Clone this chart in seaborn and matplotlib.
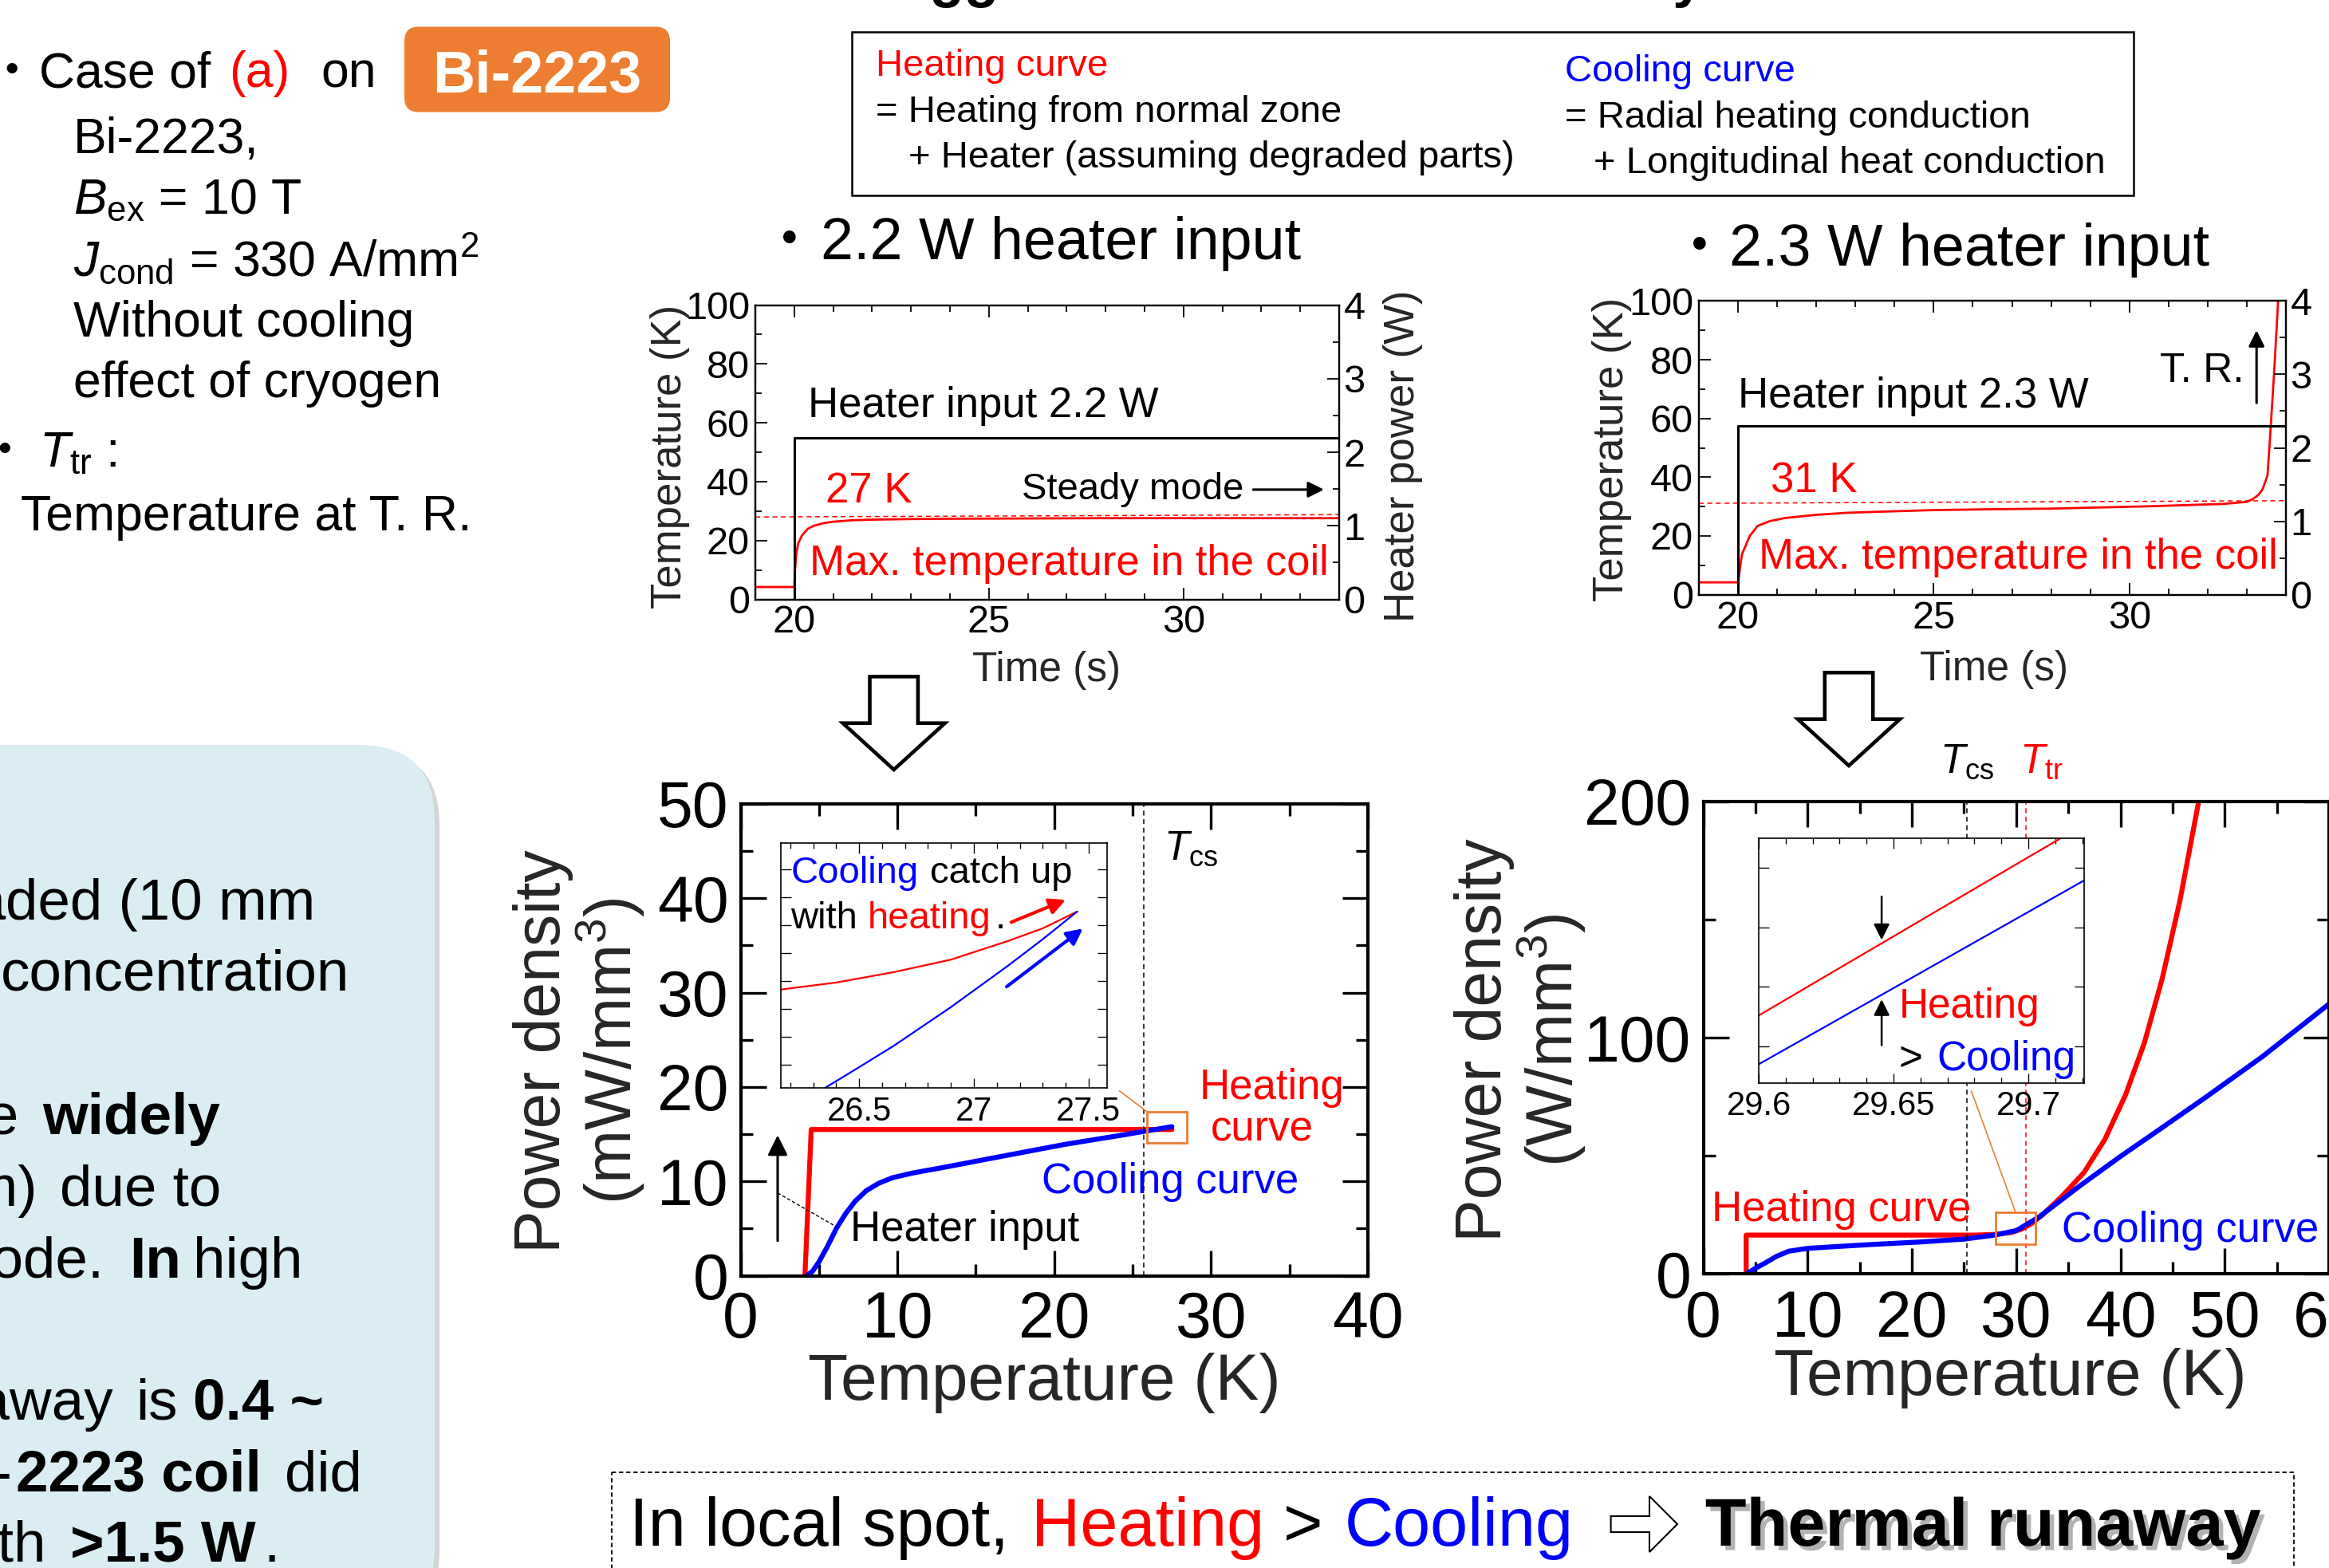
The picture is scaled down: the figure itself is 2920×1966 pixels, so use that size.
import matplotlib
matplotlib.use("Agg")
import matplotlib.pyplot as plt
import matplotlib.patheffects as pe
from matplotlib.patches import FancyBboxPatch, Rectangle, Polygon
from matplotlib.ticker import MultipleLocator, FuncFormatter, NullFormatter
import seaborn as sns

# ---------------- values ----------------
# max. coil temperature (K) vs time (s)
time_22 = [19.0, 20.0, 20.02, 20.05, 20.1, 20.2, 20.35, 20.5, 20.75, 21.0, 21.5, 22.0,
           23.0, 24.0, 26.0, 28.0, 31.0, 34.0]
temp_22 = [4.2, 4.2, 10.0, 15.3, 19.0, 21.8, 24.0, 25.0, 25.9, 26.4, 26.9, 27.1,
           27.3, 27.4, 27.5, 27.6, 27.6, 27.6]
time_23 = [19.0, 20.0, 20.05, 20.1, 20.3, 20.5, 20.8, 21.2, 22.0, 22.8, 24.0, 25.0,
           26.5, 28.0, 30.5, 32.4, 33.0, 33.15, 33.3, 33.4, 33.53, 33.61, 33.71, 33.8]
temp_23 = [4.2, 4.2, 9.0, 13.7, 20.0, 23.4, 25.0, 26.1, 27.2, 27.9, 28.4, 28.8,
           29.1, 29.3, 30.1, 30.9, 31.6, 32.5, 34.0, 35.8, 40.6, 56.7, 78.2, 100.0]
# heater power (W)
heater_time = [19.0, 20.0, 20.0, 34.0]
heater_22 = [0.0, 0.0, 2.2, 2.2]
heater_23 = [0.0, 0.0, 2.3, 2.3]
# dashed peak-temperature guides (K)
guide_time = [19.0, 34.0]
guide_22 = [28.0, 28.8]
guide_23 = [31.1, 32.0]

# power density vs temperature, 2.2 W case (mW/mm3)
heat22_T = [4.1, 4.5, 27.5]
heat22_P = [0.0, 15.5, 15.5]
cool22_T = [4.2, 4.6, 5.0, 5.5, 6.1, 6.7, 7.3, 8.0, 8.8, 9.7, 11.0, 13.0, 15.2, 20.6,
            24.3, 27.5]
cool22_P = [0.0, 0.5, 1.5, 3.0, 5.0, 6.6, 7.9, 9.0, 9.8, 10.4, 10.9, 11.5, 12.2, 13.9,
            14.9, 15.8]
tcs_22 = 25.7
# zoomed inset (arbitrary tick units)
ins22_heat_T = [26.16, 26.4, 26.65, 26.9, 27.15, 27.3, 27.45]
ins22_heat_v = [2.69, 2.94, 3.31, 3.76, 4.43, 4.88, 5.48]
ins22_cool_T = [26.35, 26.5, 26.65, 26.9, 27.15, 27.3, 27.45]
ins22_cool_v = [-0.84, -0.09, 0.67, 2.06, 3.55, 4.49, 5.48]

# power density vs temperature, 2.3 W case (W/mm3)
heat23_T = [4.1, 4.1, 26.0, 28.0, 29.5, 30.5, 31.5, 32.5, 34.4, 36.5, 38.5, 40.5,
            42.3, 44.0, 45.7, 47.5]
heat23_P = [0.0, 16.5, 16.5, 16.8, 17.6, 19.0, 21.5, 25.0, 33.0, 43.0, 57.0, 76.0,
            98.0, 125.0, 158.0, 200.0]
cool23_T = [4.1, 5.0, 6.0, 7.0, 8.2, 10.0, 12.6, 16.0, 20.8, 25.0, 27.9, 30.0, 32.2,
            36.0, 39.9, 44.0, 48.1, 53.6, 60.0]
cool23_P = [0.0, 2.5, 4.9, 7.5, 9.7, 10.9, 11.6, 12.5, 13.6, 14.8, 16.5, 18.4, 24.2,
            37.0, 49.5, 62.0, 74.6, 92.0, 114.3]
tcs_23 = 25.3
ttr_23 = 30.9
ins23_T = [29.6, 29.712]
ins23_heat_v = [0.52, 3.5]
ins23_cool_T = [29.6, 29.7207]
ins23_cool_v = [-0.3, 2.79]
ins23_ticks = [29.6, 29.65, 29.7]

RED = "#FF0000"
BLUE = "#0000FF"
ORANGE = "#ED7D31"

sns.set_theme(style="ticks")
plt.rcParams.update({
    "font.family": ["Liberation Sans", "Noto Sans CJK JP"],
    "mathtext.fontset": "custom",
    "mathtext.rm": "Liberation Sans",
    "mathtext.it": "Liberation Sans:italic",
    "mathtext.bf": "Liberation Sans:bold",
    "axes.edgecolor": "black",
    "xtick.color": "black",
    "ytick.color": "black",
})

fig = plt.figure(figsize=(29.2, 19.66), dpi=100)

# full-figure overlay in pixel units (y downwards) for the slide decorations
bg = fig.add_axes([0, 0, 1, 1])
bg.set_xlim(0, 2920)
bg.set_ylim(1966, 0)
bg.axis("off")


def put(x, y, s, size, color="black", weight="normal", ha="left", va="baseline", ax=None, **kw):
    ax = bg if ax is None else ax
    return ax.text(x, y, s, fontsize=size, color=color, fontweight=weight, ha=ha, va=va, **kw)


def line(ax, x, y, color, lw, ls="-"):
    sns.lineplot(x=x, y=y, ax=ax, color=color, linewidth=lw, linestyle=ls,
                 estimator=None, sort=False, legend=False)


def frame(ax, spine_w, major, minor, labelsize, pad, right=True):
    for s in ax.spines.values():
        s.set_linewidth(spine_w)
        s.set_color("black")
    ax.tick_params(which="both", direction="in", top=True, right=right,
                   width=spine_w * 0.8, labelsize=labelsize, pad=pad, colors="black")
    ax.tick_params(which="major", length=major)
    ax.tick_params(which="minor", length=minor)


def arrow(ax, tail, tip, color, lw, ms):
    ax.annotate("", xy=tip, xytext=tail,
                arrowprops=dict(arrowstyle="-|>", color=color, lw=lw, mutation_scale=ms,
                                shrinkA=0, shrinkB=0))


# ---------------- title cut by the top edge (only descenders visible) ----------------
r = fig.canvas.get_renderer()
tmp = put(0, 0, "Thermal behavior tri", 51, weight="bold")
w_a = tmp.get_window_extent(r).width
tmp.remove()
tmp = put(0, 0, "heated area b", 51, weight="bold")
w_b = tmp.get_window_extent(r).width
tmp.remove()
put(1166 - w_a, -5, "Thermal behavior triggered", 51, weight="bold")
put(2097 - w_b, -5, "heated area by heater", 51, weight="bold")

# ---------------- left text block ----------------
put(14.4, 109, "・", 45, ha="center")
put(49, 109, "Case of", 45)
put(287, 109, "(a)", 45, color=RED)
put(402, 109, "on", 45)
bg.add_patch(FancyBboxPatch((507, 33.5), 333, 107, boxstyle="round,pad=0,rounding_size=18",
                            fc=ORANGE, ec="none"))
put(673, 115, "Bi-2223", 53, color="white", weight="bold", ha="center")
put(92, 192, "Bi-2223,", 45)
put(92, 268, r"$B_{\rm ex}$ = 10 T", 45)
put(92, 346, r"$J_{\rm cond}$ = 330 A/mm$^2$", 45)
put(92, 422, "Without cooling", 45)
put(92, 498, "effect of cryogen", 45)
put(5.7, 585, "・", 45, ha="center")
put(49, 585, r"$T_{\rm tr}$ :", 45)
put(26, 665, "Temperature at T. R.", 45)

# ---------------- definition box ----------------
bg.add_patch(Rectangle((1068, 40), 1607, 205, fc="white", ec="black", lw=1.8))
put(1098, 95, "Heating curve", 34, color=RED)
put(1098, 153, "= Heating from normal zone", 34)
put(1139, 210, "+ Heater (assuming degraded parts)", 34)
put(1962, 101.7, "Cooling curve", 34, color=BLUE)
put(1962, 160, "= Radial heating conduction", 34)
put(1998, 216.7, "+ Longitudinal heat conduction", 34)

# ---------------- panel titles ----------------
put(990, 325, "・", 53, ha="center")
put(1028.7, 325, "2.2 W heater input", 53)
put(2131, 333, "・", 53, ha="center")
put(2168, 333, "2.3 W heater input", 53)

# ---------------- hollow down arrows ----------------
for xc, dy in [(1120.7, 0), (2318, -5)]:
    pts = [(xc - 30.2, 848.3 + dy), (xc + 30.2, 848.3 + dy), (xc + 30.2, 906.7 + dy),
           (xc + 64, 906.7 + dy), (xc, 965 + dy), (xc - 64, 906.7 + dy), (xc - 30.2, 906.7 + dy)]
    bg.add_patch(Polygon(pts, closed=True, fc="white", ec="black", lw=3.3, joinstyle="miter"))

# ---------------- light blue note box (cut at the left edge) ----------------
bg.add_patch(FancyBboxPatch((-100, 940), 651, 1100, boxstyle="round,pad=0,rounding_size=95",
                            fc="#B8B8B8", ec="none", alpha=0.6))
bg.add_patch(FancyBboxPatch((-100, 934), 645, 1100, boxstyle="round,pad=0,rounding_size=95",
                            fc="#DAEDF3", ec="none"))
BS = 52.5
put(7, 1153, "degra", BS, ha="right")
put(7, 1153, "ded (10 mm", BS)
put(1, 1241.7, "concentration", BS)
put(24, 1421.7, "the", BS, ha="right")
put(53, 1421.7, "widely", BS, weight="bold")
put(47, 1511.7, "mm)", BS, ha="right")
put(75, 1511.7, "due to", BS)
put(130, 1601.7, "mode.", BS, ha="right")
put(162, 1601.7, "In", BS, weight="bold")
put(242, 1601.7, "high", BS)
put(142, 1780, "runaway", BS, ha="right")
put(170, 1780, "is", BS)
put(242, 1780, "0.4 ~", BS, weight="bold")
put(15, 1870, "Bi-", BS, ha="right")
put(20, 1870, "2223 coil", BS, weight="bold")
put(357, 1870, "did", BS)
put(58, 1958, "with", BS, ha="right")
put(88, 1958, ">1.5 W", BS, weight="bold")
put(330, 1958, ".", BS)

# ---------------- bottom conclusion box ----------------
bg.add_patch(Rectangle((767, 1846), 2109, 200, fc="none", ec="black", lw=1.3,
                       ls=(0, (3, 2))))
put(789, 1938, "In local spot,", 61)
put(1293.5, 1938, "Heating", 61, color=RED)
put(1609, 1938, ">", 61)
put(1685.8, 1938, "Cooling", 61, color=BLUE)
bg.add_patch(Polygon([(2019.6, 1901), (2068, 1901), (2068, 1876), (2103, 1911),
                      (2068, 1946), (2068, 1921), (2019.6, 1921)],
                     closed=True, fc="white", ec="black", lw=1.5))
put(2137.8, 1938, "Thermal runaway", 61, weight="bold",
    path_effects=[pe.withSimplePatchShadow(offset=(4, -4), shadow_rgbFace="gray", alpha=0.6)])


# ---------------- time traces ----------------
def time_panel(rect, temp_t, temp, heater, guide, xlab_xy, ylab_xy, rlab_xy):
    ax = fig.add_axes(rect)
    ax2 = ax.twinx()
    line(ax, temp_t, temp, RED, 2.0)
    line(ax, guide_time, guide, RED, 1.1, (0, (4, 3)))
    line(ax2, heater_time, heater, "black", 2.2)
    ax.set_xlim(19, 34)
    ax.set_ylim(0, 100)
    ax2.set_ylim(0, 4)
    ax.xaxis.set_major_locator(MultipleLocator(5))
    ax.xaxis.set_minor_locator(MultipleLocator(1))
    ax.yaxis.set_major_locator(MultipleLocator(20))
    ax.yaxis.set_minor_locator(MultipleLocator(10))
    ax2.yaxis.set_major_locator(MultipleLocator(1))
    ax2.yaxis.set_minor_locator(MultipleLocator(0.5))
    frame(ax, 1.6, 11, 6, 35, 5, right=False)
    frame(ax2, 1.6, 11, 6, 35, 4)
    ax2.tick_params(which="both", left=False)
    ax.set_xlabel("Time (s)", fontsize=37, va="center")
    ax.xaxis.set_label_coords(*xlab_xy)
    ax.set_ylabel("Temperature (K)", fontsize=38, va="center", ha="center")
    ax.yaxis.set_label_coords(*ylab_xy)
    ax2.set_ylabel("Heater power (W)", fontsize=38, va="center", ha="center", rotation=90)
    ax2.yaxis.set_label_coords(*rlab_xy)
    return ax


ta = time_panel([0.32432, 0.61775, 0.25068, 0.18764], time_22, temp_22, heater_22, guide_22,
                (0.4986, -0.2426), (-0.146, 0.4866), (1.109, 0.486))
put(20.35, 61.9, "Heater input 2.2 W", 38, ax=ta)
put(20.8, 33.0, "27 K", 38, color=RED, ax=ta)
put(25.84, 34.1, "Steady mode", 34, ax=ta)
arrow(ta, (31.79, 37.3), (33.61, 37.3), "black", 2.2, 30)
put(20.4, 8.3, "Max. temperature in the coil", 38, color=RED, ax=ta)

tb = time_panel([0.72945, 0.62075, 0.25205, 0.18728], time_23, temp_23, heater_23, guide_23,
                (0.5027, -0.2537), (-0.148, 0.4937), (1.2, 0.49))
put(20.0, 63.7, "Heater input 2.3 W", 38, ax=tb)
put(20.84, 34.7, "31 K", 38, color=RED, ax=tb)
put(20.53, 8.9, "Max. temperature in the coil", 38, color=RED, ax=tb)
put(30.78, 72.3, "T. R.", 37, ax=tb)
arrow(tb, (33.25, 65.3), (33.25, 90.0), "black", 2.2, 30)

# ---------------- power density, 2.2 W ----------------
pa = fig.add_axes([0.31801, 0.18637, 0.26932, 0.30092])
line(pa, heat22_T, heat22_P, RED, 4.5)
line(pa, cool22_T, cool22_P, BLUE, 4.5)
pa.axvline(tcs_22, color="black", lw=1.1, ls=(0, (4, 3)))
pa.set_xlim(0, 40)
pa.set_ylim(0, 50)
pa.xaxis.set_major_locator(MultipleLocator(10))
pa.xaxis.set_minor_locator(MultipleLocator(5))
pa.yaxis.set_major_locator(MultipleLocator(10))
pa.yaxis.set_minor_locator(MultipleLocator(5))
frame(pa, 3.0, 23, 11, 58, 11)
pa.tick_params(axis="x", pad=13)
pa.set_xlabel("Temperature (K)", fontsize=59, va="center")
pa.xaxis.set_label_coords(0.4838, -0.2272)
pa.set_ylabel("Power density\n(mW/mm$^3$)", fontsize=58, va="center", ha="center",
              linespacing=1.0)
pa.yaxis.set_label_coords(-0.2576, 0.476)
pa.add_patch(Rectangle((25.9, 14.06), 2.55, 3.32, fill=False, ec=ORANGE, lw=2.0, zorder=5))
line(pa, [25.9, 24.15], [17.4, 19.6], ORANGE, 1.2)
put(33.89, 18.7, "Heating", 38, color=RED, ha="center", ax=pa)
put(33.26, 14.3, "curve", 38, color=RED, ha="center", ax=pa)
put(19.18, 8.76, "Cooling curve", 38, color=BLUE, ax=pa)
put(7.01, 3.67, "Heater input", 38, ax=pa)
arrow(pa, (2.36, 3.7), (2.36, 14.9), "black", 2.2, 38)
line(pa, [2.36, 6.1], [8.77, 5.2], "black", 1.0, (0, (3, 2)))
put(27.0, 44.1, r"$T_{\rm cs}$", 37, ax=pa)

ia = fig.add_axes([0.33538, 0.30605, 0.13993, 0.15641])
line(ia, ins22_heat_T, ins22_heat_v, RED, 1.6)
line(ia, ins22_cool_T, ins22_cool_v, BLUE, 1.6)
ia.set_xlim(26.16, 27.58)
ia.set_ylim(-0.84, 7.94)
ia.xaxis.set_major_locator(MultipleLocator(0.5))
ia.xaxis.set_minor_locator(MultipleLocator(0.1))
ia.yaxis.set_major_locator(MultipleLocator(1))
ia.xaxis.set_major_formatter(FuncFormatter(lambda v, p: f"{v:g}"))
ia.yaxis.set_major_formatter(NullFormatter())
frame(ia, 1.2, 9, 5, 30, 7)
put(26.202, 6.52, "Cooling", 34, color=BLUE, ax=ia)
put(26.81, 6.52, "catch up", 34, ax=ia)
put(26.202, 4.88, "with", 34, ax=ia)
put(26.538, 4.88, "heating", 34, color=RED, ax=ia)
put(27.092, 4.88, ".", 34, ax=ia)
arrow(ia, (27.1625, 5.10), (27.40, 5.90), RED, 3.0, 30)
arrow(ia, (27.1425, 2.79), (27.475, 4.87), BLUE, 3.0, 30)

# ---------------- power density, 2.3 W ----------------
pb = fig.add_axes([0.73140, 0.18744, 0.26860, 0.30137])
line(pb, heat23_T, heat23_P, RED, 4.5)
line(pb, cool23_T, cool23_P, BLUE, 4.5)
pb.axvline(tcs_23, color="black", lw=1.1, ls=(0, (4, 3)))
pb.axvline(ttr_23, color=RED, lw=1.1, ls=(0, (4, 3)))
pb.set_xlim(0, 60)
pb.set_ylim(0, 200)
pb.xaxis.set_major_locator(MultipleLocator(10))
pb.xaxis.set_minor_locator(MultipleLocator(5))
pb.yaxis.set_major_locator(MultipleLocator(100))
pb.yaxis.set_minor_locator(MultipleLocator(50))
frame(pb, 3.0, 23, 11, 58, 11)
pb.tick_params(axis="x", pad=14)
pb.set_xlabel("Temperature (K)", fontsize=59, va="center")
pb.xaxis.set_label_coords(0.49, -0.2203)
pb.set_ylabel("Power density\n(W/mm$^3$)", fontsize=58, va="center", ha="center",
              linespacing=1.0)
pb.yaxis.set_label_coords(-0.2916, 0.4954)
pb.add_patch(Rectangle((28.05, 12.7), 3.8, 13.5, fill=False, ec=ORANGE, lw=2.0, zorder=5))
line(pb, [29.9, 25.7], [26.6, 77.5], ORANGE, 1.2)
put(0.82, 22.3, "Heating curve", 38, color=RED, ax=pb)
put(34.4, 13.6, "Cooling curve", 38, color=BLUE, ax=pb)
put(22.7, 212.2, r"$T_{\rm cs}$", 37, ax=pb, clip_on=False)
put(30.3, 212.2, r"$T_{\rm tr}$", 37, color=RED, ax=pb, clip_on=False)

ib = fig.add_axes([0.75514, 0.30951, 0.13969, 0.15590])
line(ib, ins23_T, ins23_heat_v, RED, 1.6)
line(ib, ins23_cool_T, ins23_cool_v, BLUE, 1.6)
ib.set_xlim(29.6, 29.7207)
ib.set_ylim(-0.61, 3.5)
ib.set_xticks(ins23_ticks)
ib.xaxis.set_minor_locator(MultipleLocator(0.01))
ib.yaxis.set_major_locator(MultipleLocator(1))
ib.xaxis.set_major_formatter(FuncFormatter(lambda v, p: f"{v:g}"))
ib.yaxis.set_major_formatter(NullFormatter())
frame(ib, 1.2, 9, 5, 30, 7)
arrow(ib, (29.6456, 2.52), (29.6456, 1.79), "black", 1.8, 30)
arrow(ib, (29.6456, 0.02), (29.6456, 0.79), "black", 1.8, 30)
put(29.652, 0.48, "Heating", 37, color=RED, ax=ib)
put(29.652, -0.4, ">", 37, ax=ib)
put(29.666, -0.4, "Cooling", 37, color=BLUE, ax=ib)

fig.savefig("out.png", dpi=100)
